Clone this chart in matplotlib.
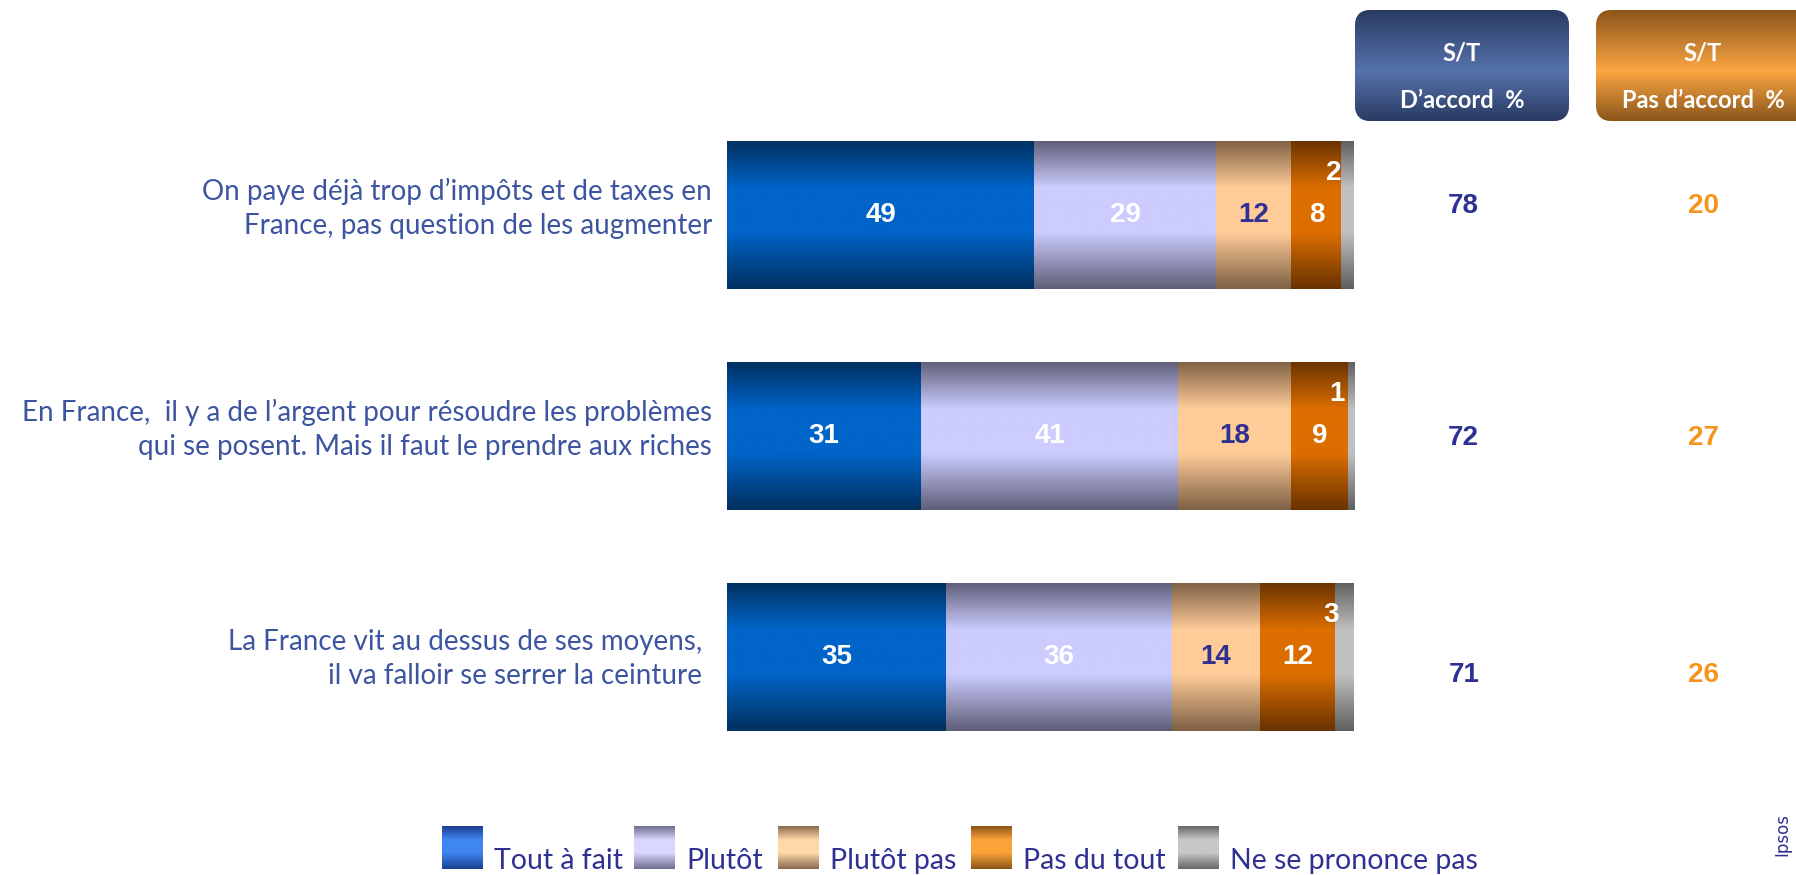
import numpy as np
import matplotlib
matplotlib.use("Agg")
import matplotlib.pyplot as plt
from matplotlib.colors import LinearSegmentedColormap
from matplotlib.patches import FancyBboxPatch

W, H = 1796, 875

# --- data ---
statements = [
    "On paye déjà trop d’impôts et de taxes en\nFrance, pas question de les augmenter",
    "En France,  il y a de l’argent pour résoudre les problèmes\nqui se posent. Mais il faut le prendre aux riches",
    "La France vit au dessus de ses moyens,\nil va falloir se serrer la ceinture",
]
categories = ["Tout à fait", "Plutôt", "Plutôt pas", "Pas du tout", "Ne se prononce pas"]
tout_a_fait = [49, 31, 35]
plutot = [29, 41, 36]
plutot_pas = [12, 18, 14]
pas_du_tout = [8, 9, 12]
nsp = [2, 1, 3]
header_accord = ["S/T", "D’accord  %"]
header_pas = ["S/T", "Pas d’accord  %"]

# --- styles ---
NAVY = "#2E3192"
ORANGE = "#F7941D"
LABEL_BLUE = "#3D55A0"
bar_grad = [("#00305f", "#0064c8"), ("#5e5e78", "#ccccff"), ("#7e6044", "#ffcc99"),
            ("#683200", "#dc6e00"), ("#5f5f5f", "#c0c0c0")]
legend_grad = [("#1c3f8e", "#3f86f2"), ("#6e6e8e", "#d8d8ff"), ("#8a6a4e", "#ffd8a8"),
               ("#8a5416", "#fba43a"), ("#666666", "#c8c8c8")]
num_colors = ["white", "white", NAVY, "white", "white"]
TEXT_FONT = "Lato"


def grad_cmap(dark, mid, stops=(0.32, 0.62)):
    pts = [(0, dark)] + [(s, mid) for s in stops] + [(1, dark)]
    return LinearSegmentedColormap.from_list("g", pts)


GRAD = np.linspace(0, 1, 256).reshape(-1, 1)

fig = plt.figure(figsize=(W / 100, H / 100), dpi=100)

# overlay axes in pixel coordinates (headers, legend, credit)
ov = fig.add_axes([0, 0, 1, 1])
ov.set_xlim(0, W)
ov.set_ylim(H, 0)
ov.axis("off")


def grad_box(x0, y0, x1, y1, dark, mid, rounding=0, stops=(0.32, 0.62)):
    patch = FancyBboxPatch((x0, y0), x1 - x0, y1 - y0,
                           boxstyle=f"round,pad=0,rounding_size={rounding}" if rounding else "square,pad=0",
                           fc=mid, ec="none", zorder=1)
    ov.add_patch(patch)
    im = ov.imshow(GRAD, cmap=grad_cmap(dark, mid, stops), extent=(x0, x1, y1, y0),
                   aspect="auto", zorder=2, interpolation="bilinear")
    im.set_clip_path(patch)


# header boxes
grad_box(1355, 10, 1569, 121, "#2a3a62", "#5673ad", rounding=16, stops=(0.55,))
grad_box(1596, 10, 1812, 121, "#8a561b", "#fca642", rounding=16, stops=(0.55,))
for cx, lines in [(1462, header_accord), (1703, header_pas)]:
    ov.text(cx, 53, lines[0], ha="center", va="center", color="white",
            fontsize=17, fontweight="bold", family=TEXT_FONT, zorder=3)
    ov.text(cx, 101, lines[1], ha="center", va="center", color="white",
            fontsize=17, fontweight="bold", family=TEXT_FONT, zorder=3)

# legend
leg_x = [442, 634, 778, 971, 1178]
for x, lab, (dk, md) in zip(leg_x, categories, legend_grad):
    grad_box(x, 826, x + 41, 869, dk, md)
    ov.text(x + 52, 869, lab, ha="left", va="baseline", color=NAVY,
            fontsize=20.5, family=TEXT_FONT)

ov.text(1782, 834, "Ipsos", rotation=90, ha="center", va="center",
        color=NAVY, fontsize=12)
ov.set_xlim(0, W)
ov.set_ylim(H, 0)

# --- stacked bars ---
ax = fig.add_axes([727 / W, 1 - 767.5 / H, 627 / W, 663 / H])
ax.set_xlim(0, 100)
ax.set_ylim(2.5, -0.5)
ax.axis("off")
ax.patch.set_alpha(0)

series = [tout_a_fait, plutot, plutot_pas, pas_du_tout, nsp]
rows = np.arange(len(statements))
left = np.zeros(len(statements))
bh = 0.67
for k, (vals, (dk, md)) in enumerate(zip(series, bar_grad)):
    bars = ax.barh(rows, vals, left=left, height=bh, color=md, edgecolor="none", zorder=1)
    for b, v, l, r in zip(bars, vals, left, rows):
        im = ax.imshow(GRAD, cmap=grad_cmap(dk, md), extent=(l, l + v, r + bh / 2, r - bh / 2),
                       aspect="auto", zorder=2, interpolation="bilinear")
        im.set_clip_path(b)
        if k < 4:
            ax.text(l + v / 2, r, str(v), ha="center", va="center", color=num_colors[k],
                    fontsize=20, fontweight="bold", family="Liberation Sans", zorder=4)
        else:
            ax.text(l + v / 2 - 2.2, r - 0.19, str(v), ha="center", va="center", color="white",
                    fontsize=20, fontweight="bold", family="Liberation Sans", zorder=4)
    left = left + np.array(vals)
ax.set_xlim(0, 100)
ax.set_ylim(2.5, -0.5)

# totals
total_dy = [-0.04, 0.01, 0.08]
for r in rows:
    st_accord = tout_a_fait[r] + plutot[r]
    st_pas = plutot_pas[r] + pas_du_tout[r]
    ax.text(117.5, r + total_dy[r], str(st_accord), ha="center", va="center", color=NAVY,
            fontsize=20, fontweight="bold", family="Liberation Sans", clip_on=False)
    ax.text(155.7, r + total_dy[r], str(st_pas), ha="center", va="center", color=ORANGE,
            fontsize=20, fontweight="bold", family="Liberation Sans", clip_on=False)

# statements
label_x = [-2.4, -2.4, -4.0]
for r, s in enumerate(statements):
    ax.text(label_x[r], r + [-0.03, -0.03, 0.01][r], s, ha="right", va="center",
            multialignment="right", color=LABEL_BLUE, fontsize=20, family=TEXT_FONT,
            linespacing=1.38, clip_on=False)

fig.savefig("out.png", dpi=100)
